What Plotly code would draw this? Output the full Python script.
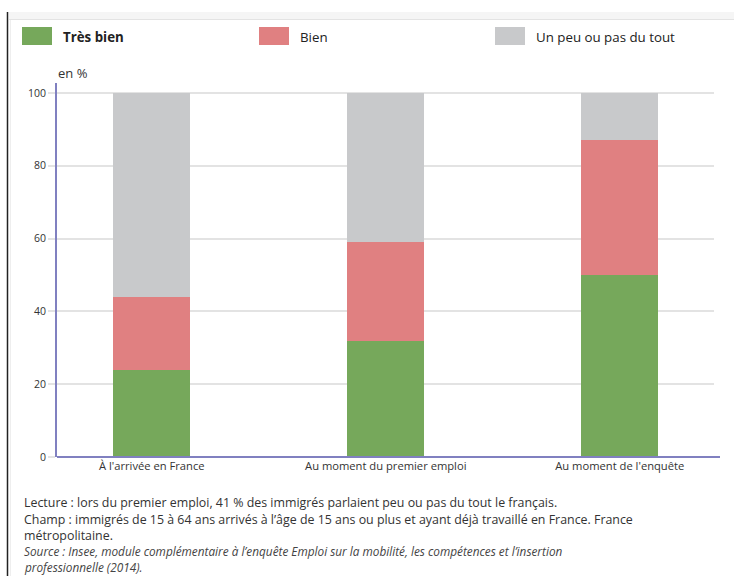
import plotly.graph_objects as go

categories = ["À l'arrivée en France", "Au moment du premier emploi", "Au moment de l'enquête"]
tres_bien = [24, 32, 50]
bien = [20, 27, 37]
peu = [56, 41, 13]
series_names = ["Très bien", "Bien", "Un peu ou pas du tout"]
colors = ["#76a85b", "#e08081", "#c8c9cb"]
y_ticks = [0, 20, 40, 60, 80, 100]

W, H = 734, 576
L, R, T, B = 57, 20, 83, 119
PW, PH = W - L - R, H - T - B


def px(x):
    return (x - L) / PW


def py(y):
    return (H - B - y) / PH


FONT = "Open Sans"
fig = go.Figure()
for name, vals, col in zip(series_names, [tres_bien, bien, peu], colors):
    fig.add_trace(go.Bar(x=list(range(len(categories))), y=vals, name=name,
                         marker=dict(color=col, line=dict(width=0)), width=0.33,
                         showlegend=False))

shapes = []
annotations = []
# top header band and left border
shapes.append(dict(type="rect", xref="paper", yref="paper", x0=px(9), x1=px(734), y0=py(19), y1=py(12),
                   fillcolor="#f5f5f5", line=dict(width=0), layer="below"))
shapes.append(dict(type="line", xref="paper", yref="paper", x0=px(9), x1=px(734), y0=py(19.5), y1=py(19.5),
                   line=dict(color="#e3e3e3", width=1)))
shapes.append(dict(type="line", xref="paper", yref="paper", x0=px(7.5), x1=px(7.5), y0=py(12), y1=py(576),
                   line=dict(color="#222222", width=1.5)))
shapes.append(dict(type="line", xref="paper", yref="paper", x0=px(10.5), x1=px(10.5), y0=py(20), y1=py(576),
                   line=dict(color="#eeeeee", width=1)))
# x axis line extension
shapes.append(dict(type="line", xref="paper", yref="paper", x0=0, x1=px(720), y0=py(457), y1=py(457),
                   line=dict(color="#8080c0", width=2)))

# legend
leg_x = [22, 259, 495]
for i, (name, col) in enumerate(zip(series_names, colors)):
    x0 = leg_x[i]
    shapes.append(dict(type="rect", xref="paper", yref="paper", x0=px(x0), x1=px(x0 + 30),
                       y0=py(45), y1=py(27), fillcolor=col, line=dict(width=0)))
    txt = f"<b>{name}</b>" if i == 0 else name
    annotations.append(dict(text=txt, xref="paper", yref="paper", x=px(x0 + 39), y=py(37),
                            xanchor="left", yanchor="middle", showarrow=False,
                            font=dict(family=FONT, size=13.3, color="#222222")))

annotations.append(dict(text="en %", xref="paper", yref="paper", x=px(56), y=py(73),
                        xanchor="left", yanchor="middle", showarrow=False,
                        font=dict(family=FONT, size=13, color="#333333")))

notes = [
    ("Lecture : lors du premier emploi, 41 % des immigrés parlaient peu ou pas du tout le français.", 502, False),
    ("Champ : immigrés de 15 à 64 ans arrivés à l’âge de 15 ans ou plus et ayant déjà travaillé en France. France", 519, False),
    ("métropolitaine.", 535, False),
    ("Source : Insee, module complémentaire à l’enquête Emploi sur la mobilité, les compétences et l’insertion", 551, True),
    ("professionnelle (2014).", 567, True),
]
for txt, yy, it in notes:
    annotations.append(dict(text=f"<i>{txt}</i>" if it else txt, xref="paper", yref="paper",
                            x=px(22), y=py(yy), xanchor="left", yanchor="middle", showarrow=False,
                            font=dict(family=FONT, size=12.4 if not it else 11.8,
                                      color="#333333" if not it else "#444444")))

fig.update_layout(
    width=W, height=H, barmode="stack",
    margin=dict(l=L, r=R, t=T, b=B, autoexpand=False),
    paper_bgcolor="white", plot_bgcolor="white",
    shapes=shapes, annotations=annotations,
    font=dict(family=FONT, color="#333333"),
    xaxis=dict(range=[-0.405, -0.405 + PW / 234], tickmode="array", tickvals=list(range(len(categories))),
               ticktext=categories, showgrid=False, showline=False, zeroline=False,
               tickfont=dict(size=11.2, color="#333333"), ticks="", ticklabelstandoff=1),
    yaxis=dict(range=[0, PH / 3.64], tickmode="array", tickvals=y_ticks,
               showgrid=True, gridcolor="#e3e3e3", gridwidth=2, zeroline=False,
               showline=True, linecolor="#8080c0", linewidth=2,
               ticks="outside", ticklen=7, tickcolor="#e3e3e3", tickwidth=2,
               tickfont=dict(size=10.5, color="#333333")),
)
fig.write_html("out.html", config={"displayModeBar": False},
               post_script="document.body.style.margin='0';document.body.style.padding='0';")
